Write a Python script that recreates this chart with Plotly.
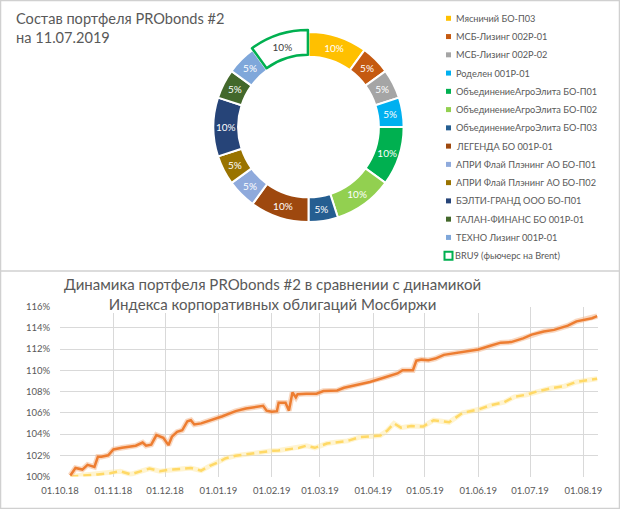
import plotly.graph_objects as go

W, H = 620, 509
FONT = 'Lato, "Open Sans", sans-serif'
TXT = '#595959'

# --- состав портфеля на 11.07.2019 ---
bond_names = ['Мясничий БО-П03', 'МСБ-Лизинг 002Р-01', 'МСБ-Лизинг 002Р-02', 'Роделен 001Р-01',
              'ОбъединениеАгроЭлита БО-П01', 'ОбъединениеАгроЭлита БО-П02', 'ОбъединениеАгроЭлита БО-П03',
              'ЛЕГЕНДА БО 001Р-01', 'АПРИ Флай Плэнинг АО БО-П01', 'АПРИ Флай Плэнинг АО БО-П02',
              'БЭЛТИ-ГРАНД ООО БО-П01', 'ТАЛАН-ФИНАНС БО 001Р-01', 'ТЕХНО Лизинг 001Р-01',
              'BRU9 (фьючерс на Brent)']
bond_shares = [10, 5, 5, 5, 10, 10, 5, 10, 5, 5, 10, 5, 5, 10]
bond_colors = ['#FFC000', '#C55A11', '#A5A5A5', '#00B0F0', '#00B050', '#92D050', '#255E91',
               '#9E480E', '#8FAADC', '#997300', '#264478', '#43682B', '#7FA7DA', '#FFFFFF']

# --- динамика портфеля и индекса ---
port_dates = ['2018-10-07', '2018-10-10', '2018-10-14', '2018-10-17', '2018-10-19', '2018-10-21',
              '2018-10-23', '2018-10-25', '2018-10-29', '2018-11-01', '2018-11-06', '2018-11-14',
              '2018-11-18', '2018-11-20', '2018-11-23', '2018-11-26', '2018-11-30', '2018-12-03',
              '2018-12-05', '2018-12-08', '2018-12-11', '2018-12-14', '2018-12-16', '2018-12-18',
              '2018-12-22', '2018-12-28', '2019-01-03', '2019-01-11', '2019-01-17', '2019-01-27',
              '2019-01-29', '2019-02-01', '2019-02-04', '2019-02-05', '2019-02-09', '2019-02-11',
              '2019-02-13', '2019-02-15', '2019-02-16', '2019-02-21', '2019-02-27', '2019-03-03',
              '2019-03-11', '2019-03-15', '2019-03-23', '2019-03-30', '2019-04-07', '2019-04-15',
              '2019-04-18', '2019-04-24', '2019-04-26', '2019-04-29', '2019-05-03', '2019-05-07',
              '2019-05-12', '2019-05-22', '2019-06-01', '2019-06-08', '2019-06-14', '2019-06-20',
              '2019-06-27', '2019-07-02', '2019-07-09', '2019-07-15', '2019-07-23', '2019-07-28',
              '2019-08-01', '2019-08-06', '2019-08-09']
port_values = [100.1, 100.8, 100.65, 101.1, 101.0, 100.9,
               101.85, 101.85, 102.0, 102.55, 102.7, 102.9,
               103.2, 102.9, 103.0, 103.9, 103.65, 102.95,
               103.75, 104.2, 104.35, 105.2, 105.3, 104.9,
               105.0, 105.3, 105.65, 106.15, 106.4, 106.65,
               106.2, 106.1, 106.15, 106.95, 106.95, 106.2,
               107.9, 107.45, 107.75, 107.8, 107.8, 108.05,
               108.1, 108.35, 108.65, 108.9, 109.3, 109.7,
               110.0, 110.0, 110.9, 111.0, 110.95, 111.1,
               111.45, 111.7, 111.95, 112.3, 112.6, 112.65,
               113.0, 113.35, 113.65, 113.8, 114.2, 114.6,
               114.75, 114.9, 115.1]

index_dates = ['2018-10-07', '2018-10-13', '2018-10-23', '2018-10-30', '2018-11-05', '2018-11-11',
               '2018-11-17', '2018-11-22', '2018-11-28', '2018-12-04', '2018-12-10', '2018-12-16',
               '2018-12-22', '2018-12-27', '2019-01-01', '2019-01-05', '2019-01-11', '2019-01-19',
               '2019-01-25', '2019-01-31', '2019-02-05', '2019-02-11', '2019-02-17', '2019-02-21',
               '2019-02-26', '2019-03-05', '2019-03-11', '2019-03-17', '2019-03-24', '2019-03-30',
               '2019-04-05', '2019-04-09', '2019-04-13', '2019-04-17', '2019-04-23', '2019-04-30',
               '2019-05-06', '2019-05-15', '2019-05-23', '2019-06-01', '2019-06-08', '2019-06-16',
               '2019-06-22', '2019-06-29', '2019-07-05', '2019-07-13', '2019-07-21', '2019-07-28',
               '2019-08-03', '2019-08-09']
index_values = [100.0, 100.1, 100.2, 100.3, 100.5, 100.2,
                100.5, 100.75, 100.5, 100.65, 100.7, 100.8,
                100.55, 101.0, 101.35, 101.7, 101.95, 102.15,
                102.3, 102.4, 102.45, 102.6, 102.7, 102.9,
                102.7, 103.1, 103.25, 103.35, 103.7, 103.8,
                103.85, 104.3, 105.0, 104.6, 104.75, 104.7,
                105.3, 105.1, 106.0, 106.3, 106.7, 107.0,
                107.5, 107.7, 108.0, 108.3, 108.5, 108.9,
                109.05, 109.2]


def px(x):
    return x / W


def py(y):
    return 1 - y / H


fig = go.Figure()

# кольцевая диаграмма
line_colors = ['white'] * (len(bond_names) - 1) + ['#00B050']
line_widths = [2] * (len(bond_names) - 1) + [2.5]
text_colors = ['white'] * (len(bond_names) - 1) + ['#404040']
pulls = [0] * (len(bond_names) - 1) + [0.02]
fig.add_trace(go.Pie(
    labels=bond_names,
    values=bond_shares,
    hole=0.74,
    sort=False,
    direction='clockwise',
    rotation=0,
    pull=pulls,
    marker=dict(colors=bond_colors, line=dict(color=line_colors, width=line_widths)),
    textinfo='percent',
    textposition='inside',
    insidetextorientation='horizontal',
    textfont=dict(color=text_colors, size=10, family=FONT),
    domain=dict(x=[px(211.5), px(405.5)], y=[py(224), py(30)]),
    showlegend=False,
))

# линии динамики
fig.add_trace(go.Scatter(x=index_dates, y=index_values, mode='lines',
                         line=dict(color='rgba(255,230,153,0.45)', width=5),
                         hoverinfo='skip', showlegend=False))
fig.add_trace(go.Scatter(x=index_dates, y=index_values, mode='lines', name='Индекс',
                         line=dict(color='#FFD966', width=2.5, dash='8px,5px'),
                         showlegend=False))
fig.add_trace(go.Scatter(x=port_dates, y=port_values, mode='lines',
                         line=dict(color='rgba(244,177,131,0.5)', width=5.5),
                         hoverinfo='skip', showlegend=False))
fig.add_trace(go.Scatter(x=port_dates, y=port_values, mode='lines', name='PRObonds #2',
                         line=dict(color='#ED7D31', width=2.5),
                         showlegend=False))

# легенда кольца
annotations = []
shapes = []
for i, (name, color) in enumerate(zip(bond_names, bond_colors)):
    yc = 18.3 + i * 18.26
    if i == len(bond_names) - 1:
        shapes.append(dict(type='rect', xref='paper', yref='paper',
                           x0=px(444.5), x1=px(452.5), y0=py(yc + 4), y1=py(yc - 4),
                           fillcolor='white', line=dict(color='#00B050', width=2)))
        tx = 453
    else:
        shapes.append(dict(type='rect', xref='paper', yref='paper',
                           x0=px(446), x1=px(451), y0=py(yc + 2.5), y1=py(yc - 2.5),
                           fillcolor=color, line=dict(width=0)))
        tx = 454
    annotations.append(dict(text=name, x=px(tx), y=py(yc), xref='paper', yref='paper',
                            xanchor='left', yanchor='middle', showarrow=False,
                            font=dict(size=9.2, color=TXT, family=FONT)))

annotations.append(dict(text='Состав портфеля PRObonds #2<br>на 11.07.2019',
                        x=px(14), y=py(8), xref='paper', yref='paper', align='left',
                        xanchor='left', yanchor='top', showarrow=False,
                        font=dict(size=14.6, color=TXT, family=FONT)))

# заголовок нижнего графика (с белой подложкой, как в Excel)
shapes.append(dict(type='rect', xref='paper', yref='paper', layer='above',
                   x0=px(57), x1=px(487), y0=py(313), y1=py(273),
                   fillcolor='white', line=dict(width=0)))
annotations.append(dict(text='Динамика портфеля PRObonds #2 в сравнении с динамикой<br>'
                             'Индекса корпоративных облигаций Мосбиржи',
                        x=px(272), y=py(294), xref='paper', yref='paper', align='center',
                        xanchor='center', yanchor='middle', showarrow=False,
                        font=dict(size=15, color=TXT, family=FONT)))

# рамки
shapes.append(dict(type='rect', xref='paper', yref='paper', x0=px(0.5), x1=px(619.5),
                   y0=py(508.5), y1=py(0.5), line=dict(color='#D0D0D0', width=1.5)))
shapes.append(dict(type='line', xref='paper', yref='paper', x0=0, x1=1,
                   y0=py(271), y1=py(271), line=dict(color='#D0D0D0', width=1.5)))

fig.update_layout(
    width=W, height=H,
    margin=dict(l=0, r=0, t=0, b=0),
    paper_bgcolor='white', plot_bgcolor='white',
    font=dict(family=FONT, color=TXT),
    showlegend=False,
    annotations=annotations,
    shapes=shapes,
    xaxis=dict(domain=[px(60), px(598)], range=['2018-10-01', '2019-08-09 12:00'],
               automargin=False,
               tick0='2018-10-01', dtick='M1', tickformat='%d.%m.%y',
               showgrid=True, gridcolor='#D9D9D9', gridwidth=1, zeroline=False,
               showline=False, ticks='outside', ticklen=5, tickcolor='rgba(0,0,0,0)',
               tickfont=dict(size=9.5, color=TXT, family=FONT)),
    yaxis=dict(domain=[py(476.5), py(306.5)], range=[100, 116], dtick=2, ticksuffix='%',
               automargin=False,
               showgrid=True, gridcolor='#D9D9D9', gridwidth=1, zeroline=False,
               showline=False, ticks='outside', ticklen=7, tickcolor='rgba(0,0,0,0)',
               tickfont=dict(size=9.5, color=TXT, family=FONT)),
)

# у body по умолчанию отступ 8px - убираем, чтобы картинка легла в окно целиком
fig.write_html('out.html', config={'displayModeBar': False},
               post_script="document.body.style.margin = '0';")
